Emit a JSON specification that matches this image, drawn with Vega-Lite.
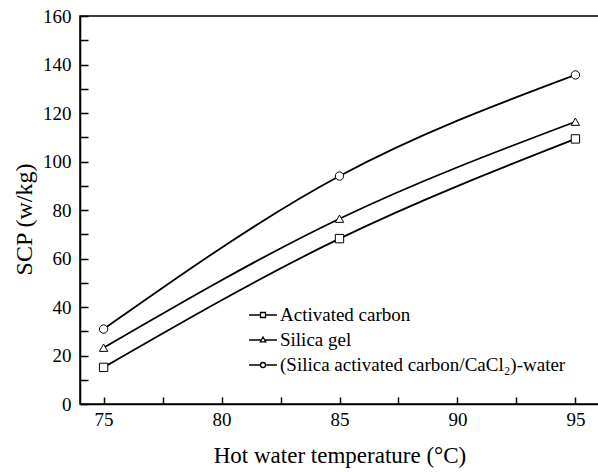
{
  "$schema": "https://vega.github.io/schema/vega-lite/v6.json",
  "autosize": "none",
  "padding": {"left": 80, "top": 16, "right": 0, "bottom": 68},
  "width": 519,
  "height": 388,
  "background": "white",
  "config": {
    "view": {"stroke": "black", "strokeWidth": 1.5},
    "font": "Liberation Serif"
  },
  "data": {
    "values": [
      {"material": "Activated carbon", "temp": 75, "scp": 15.1},
      {"material": "Activated carbon", "temp": 85, "scp": 68.2},
      {"material": "Activated carbon", "temp": 95, "scp": 109.3},
      {"material": "Silica gel", "temp": 75, "scp": 23.2},
      {"material": "Silica gel", "temp": 85, "scp": 76.4},
      {"material": "Silica gel", "temp": 95, "scp": 116.4},
      {"material": "(Silica activated carbon/CaCl₂)-water", "temp": 75, "scp": 30.9},
      {"material": "(Silica activated carbon/CaCl₂)-water", "temp": 85, "scp": 94.0},
      {"material": "(Silica activated carbon/CaCl₂)-water", "temp": 95, "scp": 135.7}
    ]
  },
  "encoding": {
    "x": {
      "field": "temp", "type": "quantitative",
      "scale": {"domain": [74, 96], "nice": false, "zero": false},
      "axis": {
        "title": "Hot water temperature (°C)",
        "values": [75, 77.5, 80, 82.5, 85, 87.5, 90, 92.5, 95],
        "labelExpr": "datum.value % 5 === 0 ? datum.label : ''",
        "grid": false,
        "tickSize": -7,
        "tickColor": "black", "tickWidth": 1.5,
        "domainColor": "black", "domainWidth": 1.5,
        "labelFont": "Liberation Serif", "labelFontSize": 19, "labelColor": "black",
        "labelPadding": 13,
        "titleFont": "Liberation Serif", "titleFontSize": 23, "titleFontWeight": "normal", "titleColor": "black",
        "titlePadding": 15,
        "encode": {"ticks": {"update": {"y2": {"signal": "datum.value % 5 === 0 ? -7 : -4"}}}}
      }
    },
    "y": {
      "field": "scp", "type": "quantitative",
      "scale": {"domain": [0, 160], "nice": false},
      "axis": {
        "title": "SCP (w/kg)",
        "values": [0, 10, 20, 30, 40, 50, 60, 70, 80, 90, 100, 110, 120, 130, 140, 150, 160],
        "labelExpr": "datum.value % 20 === 0 ? datum.label : ''",
        "grid": false,
        "tickSize": -8,
        "tickColor": "black", "tickWidth": 1.5,
        "domainColor": "black", "domainWidth": 1.5,
        "labelFont": "Liberation Serif", "labelFontSize": 19, "labelColor": "black",
        "labelPadding": 17,
        "titleFont": "Liberation Serif", "titleFontSize": 24, "titleFontWeight": "normal", "titleColor": "black",
        "titleX": -44,
        "titleY": 203,
        "encode": {"ticks": {"update": {"x2": {"signal": "datum.value % 20 === 0 ? 8 : 5"}}}}
      }
    }
  },
  "layer": [
    {
      "mark": {"type": "line", "interpolate": "monotone", "color": "black", "strokeWidth": 1.8},
      "encoding": {"detail": {"field": "material"}}
    },
    {
      "mark": {"type": "point", "filled": true, "fill": "white", "stroke": "black", "strokeWidth": 1, "size": 70, "opacity": 1},
      "encoding": {
        "shape": {
          "field": "material", "type": "nominal",
          "scale": {
            "domain": ["Activated carbon", "Silica gel", "(Silica activated carbon/CaCl₂)-water"],
            "range": ["square", "triangle-up", "circle"]
          },
          "legend": null
        }
      }
    },
    {
      "transform": [{"filter": "false"}],
      "mark": {"type": "point", "filled": false, "stroke": "black", "strokeWidth": 1.3},
      "encoding": {
        "shape": {
          "field": "material", "type": "nominal",
          "scale": {
            "domain": ["Activated carbon", "Silica gel", "(Silica activated carbon/CaCl₂)-water"],
            "range": [
              "M-1.4,0H-0.25M0.25,0H1.4M-0.25,-0.25H0.25V0.25H-0.25Z",
              "M-1.4,0H-0.22M0.22,0H1.4M0,-0.3L0.27,0.18H-0.27Z",
              "M-1.4,0H-0.25M0.25,0H1.4M0.25,0A0.25,0.25,0,1,1,-0.25,0A0.25,0.25,0,1,1,0.25,0Z"
            ]
          },
          "legend": {
            "orient": "none",
            "legendX": 172,
            "legendY": 288,
            "title": null,
            "padding": 0,
            "labelFont": "Liberation Serif", "labelFontSize": 19, "labelColor": "black",
            "labelLimit": 500,
            "labelOffset": 6,
            "symbolSize": 400,
            "rowPadding": 4,
            "symbolStrokeWidth": 1.3,
            "symbolStrokeColor": "black",
            "symbolFillColor": "white",
            "symbolOpacity": 1
          }
        }
      }
    }
  ],
  "resolve": {"scale": {"shape": "independent"}}
}
